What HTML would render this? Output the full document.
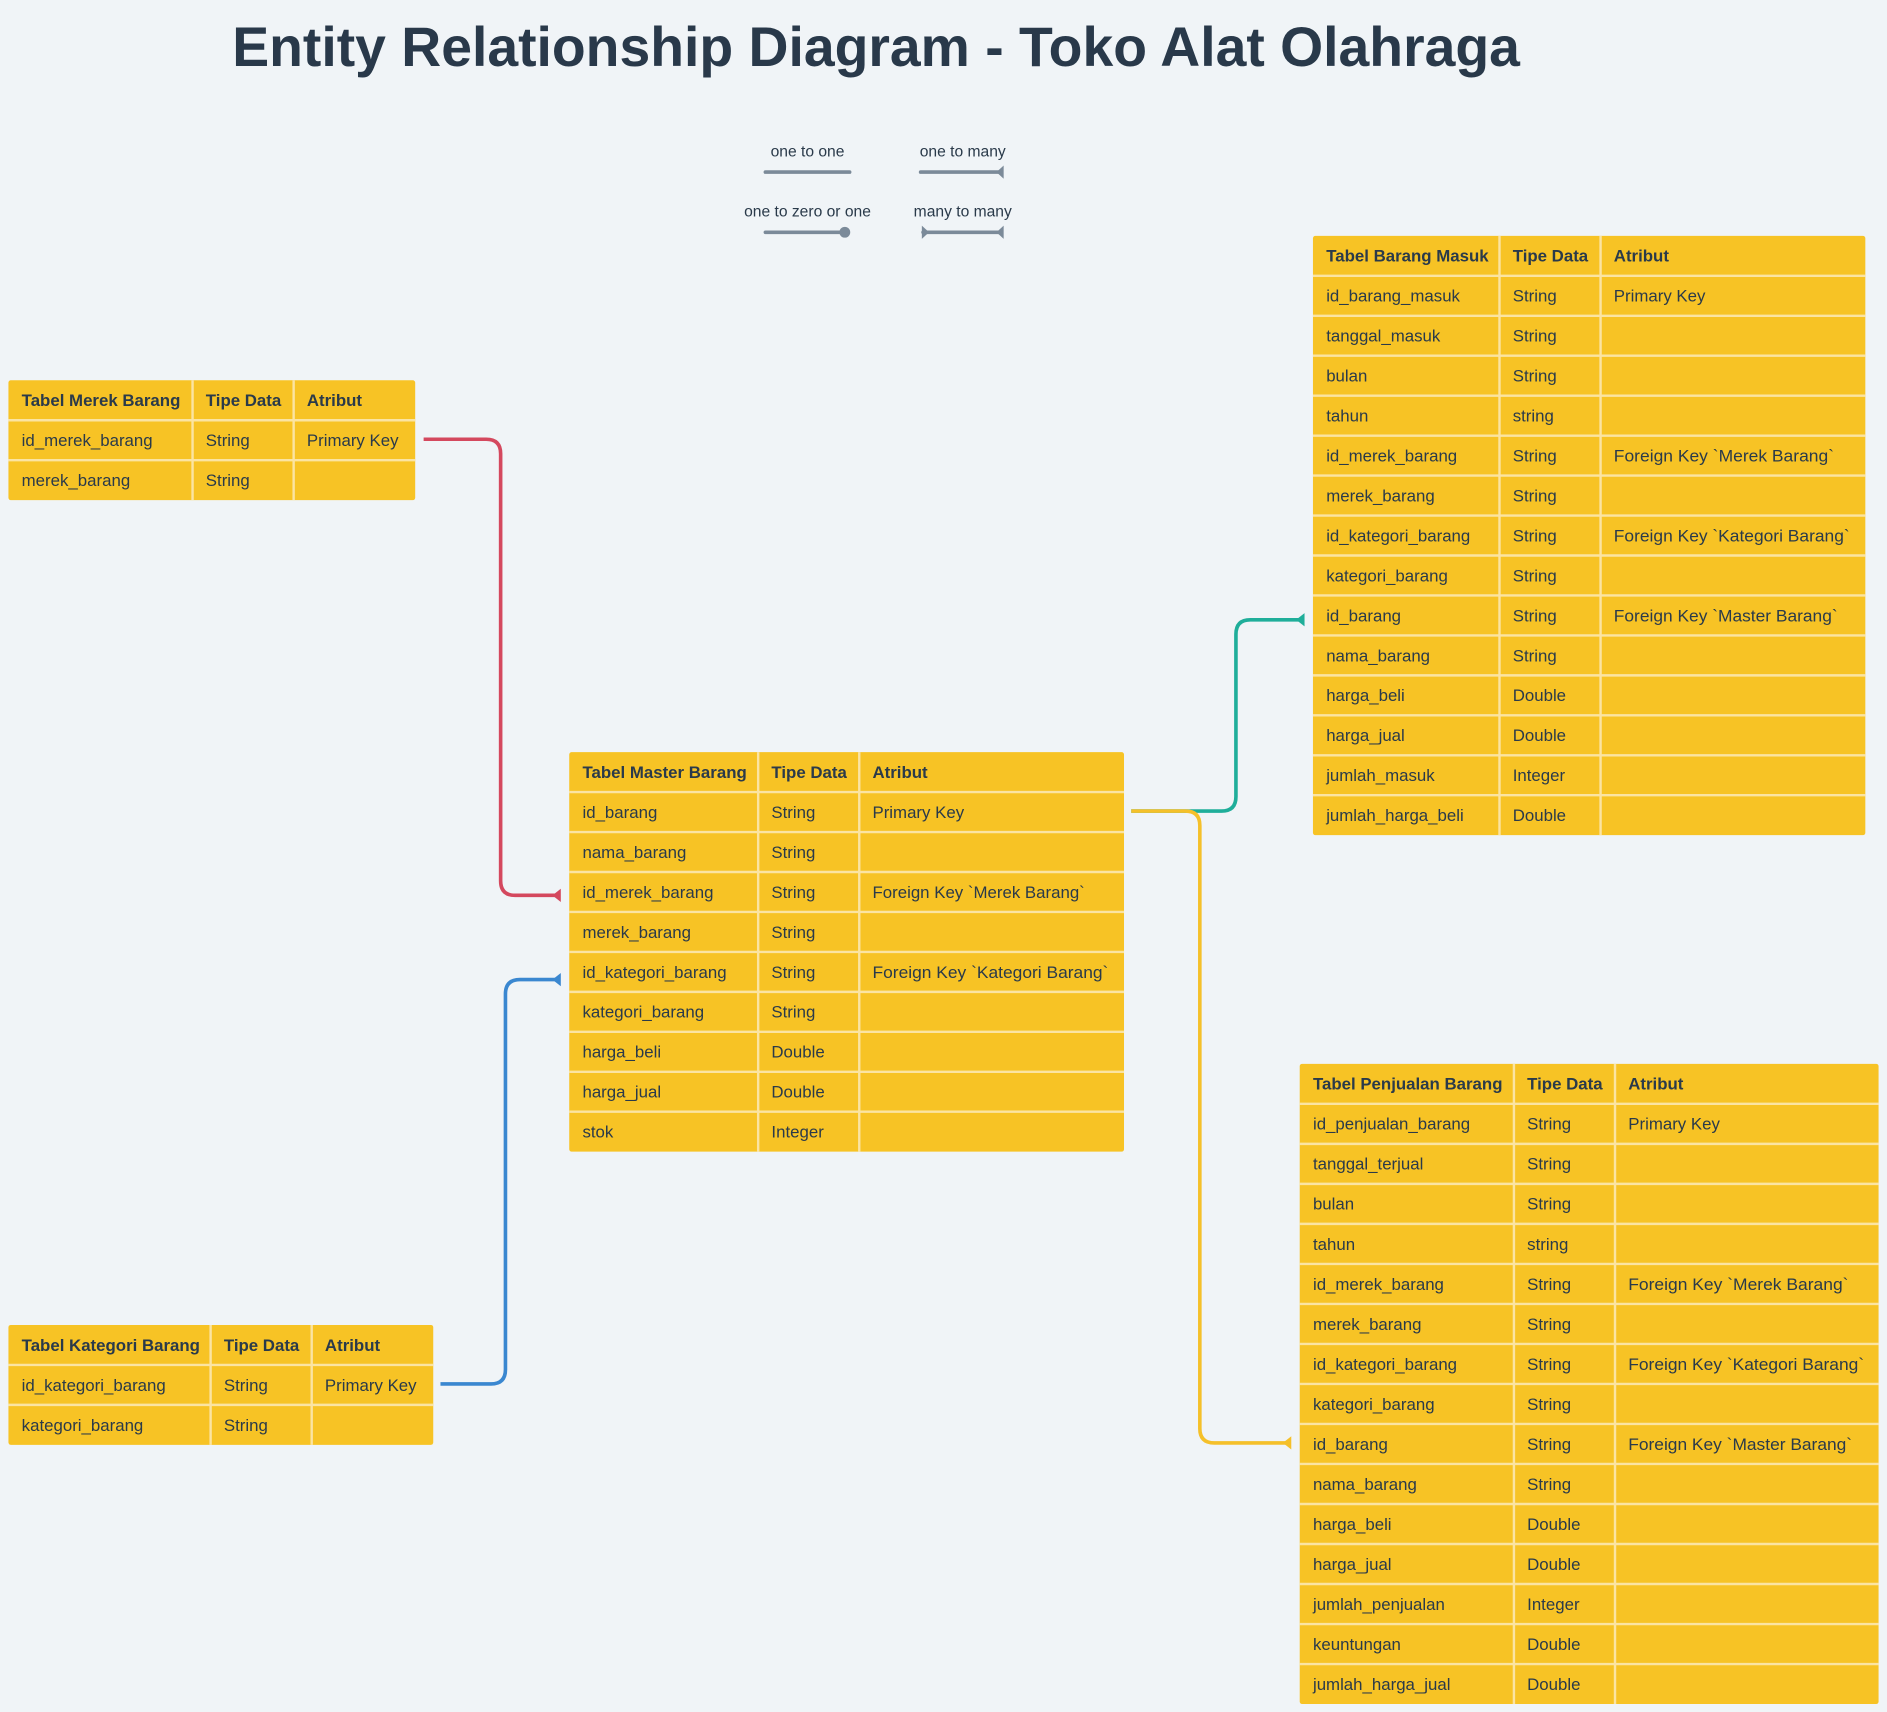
<!DOCTYPE html>
<html><head><meta charset="utf-8"><style>
html,body{margin:0;padding:0;background:#f0f4f7;}
svg{display:block}
text{font-family:"Liberation Sans",sans-serif;fill:#2a3a4a}
.h{font-weight:bold;font-size:14px}
.c{font-size:14px}
.sep{stroke:#fbe4a2;stroke-width:2}
.tb{fill:#f7c325}
</style></head><body>
<svg width="1887" height="1712" viewBox="0 0 1568 1422.6" xmlns="http://www.w3.org/2000/svg">
<text x="728" y="55" text-anchor="middle" style="font-size:46px;font-weight:bold;fill:#29394a" textLength="1070" lengthAdjust="spacingAndGlyphs">Entity Relationship Diagram - Toko Alat Olahraga</text>

<!-- legend -->
<g style="font-size:13px">
<text x="671" y="130" text-anchor="middle" style="font-size:13px">one to one</text>
<text x="800" y="130" text-anchor="middle" style="font-size:13px">one to many</text>
<text x="671" y="180" text-anchor="middle" style="font-size:13px">one to zero or one</text>
<text x="800" y="180" text-anchor="middle" style="font-size:13px">many to many</text>
</g>
<g stroke="#7b8a99" stroke-width="3" stroke-linecap="round" fill="#7b8a99">
<line x1="636" y1="143" x2="706" y2="143"/>
<line x1="765" y1="143" x2="832" y2="143"/>
<polygon points="834,137.5 834,148.5 828,143" stroke="none"/>
<line x1="636" y1="193" x2="700" y2="193"/>
<circle cx="702" cy="193" r="4.5" stroke="none"/>
<line x1="767" y1="193" x2="832" y2="193"/>
<polygon points="834,187.5 834,198.5 828,193" stroke="none"/>
<polygon points="766,187.5 766,198.5 772,193" stroke="none"/>
</g>

<!-- connectors -->
<g fill="none" stroke-width="3">
<path d="M352 365 H404 Q416 365 416 377 V732 Q416 744 428 744 H464" stroke="#d4485e"/>
<path d="M366 1150 H408 Q420 1150 420 1138 V826 Q420 814 432 814 H464" stroke="#3a87d0"/>
<path d="M940 674 H1015 Q1027 674 1027 662 V527 Q1027 515 1039 515 H1082" stroke="#1fae9a"/>
<path d="M940 674 H985 Q997 674 997 686 V1187 Q997 1199 1009 1199 H1071" stroke="#f5c02a"/>
</g>
<polygon points="466,738.5 466,749.5 459,744" fill="#d4485e"/>
<polygon points="466,808.5 466,819.5 459,814" fill="#3a87d0"/>
<polygon points="1084,509.5 1084,520.5 1077,515" fill="#1fae9a"/>
<polygon points="1073,1193.5 1073,1204.5 1066,1199" fill="#f5c02a"/>

<!-- Merek -->
<g transform="translate(7,316)">
<rect class="tb" width="338" height="99.6" rx="2"/>
<line class="sep" x1="153" y1="0" x2="153" y2="99.6"/><line class="sep" x1="237" y1="0" x2="237" y2="99.6"/>
<line class="sep" x1="0" y1="33.2" x2="338" y2="33.2"/><line class="sep" x1="0" y1="66.4" x2="338" y2="66.4"/>
<text class="h" x="11" y="21.5">Tabel Merek Barang</text><text class="h" x="164" y="21.5">Tipe Data</text><text class="h" x="248" y="21.5">Atribut</text>
<text class="c" x="11" y="54.7">id_merek_barang</text><text class="c" x="164" y="54.7">String</text><text class="c" x="248" y="54.7">Primary Key</text>
<text class="c" x="11" y="87.9">merek_barang</text><text class="c" x="164" y="87.9">String</text>
</g>

<!-- Kategori -->
<g transform="translate(7,1101)">
<rect class="tb" width="353" height="99.6" rx="2"/>
<line class="sep" x1="168" y1="0" x2="168" y2="99.6"/><line class="sep" x1="252" y1="0" x2="252" y2="99.6"/>
<line class="sep" x1="0" y1="33.2" x2="353" y2="33.2"/><line class="sep" x1="0" y1="66.4" x2="353" y2="66.4"/>
<text class="h" x="11" y="21.5">Tabel Kategori Barang</text><text class="h" x="179" y="21.5">Tipe Data</text><text class="h" x="263" y="21.5">Atribut</text>
<text class="c" x="11" y="54.7">id_kategori_barang</text><text class="c" x="179" y="54.7">String</text><text class="c" x="263" y="54.7">Primary Key</text>
<text class="c" x="11" y="87.9">kategori_barang</text><text class="c" x="179" y="87.9">String</text>
</g>

<!-- Master -->
<g transform="translate(473,625)">
<rect class="tb" width="461" height="332" rx="2"/>
<line class="sep" x1="157" y1="0" x2="157" y2="332"/><line class="sep" x1="241" y1="0" x2="241" y2="332"/>
<g class="sep">
<line x1="0" y1="33.2" x2="461" y2="33.2"/><line x1="0" y1="66.4" x2="461" y2="66.4"/><line x1="0" y1="99.6" x2="461" y2="99.6"/>
<line x1="0" y1="132.8" x2="461" y2="132.8"/><line x1="0" y1="166" x2="461" y2="166"/><line x1="0" y1="199.2" x2="461" y2="199.2"/>
<line x1="0" y1="232.4" x2="461" y2="232.4"/><line x1="0" y1="265.6" x2="461" y2="265.6"/><line x1="0" y1="298.8" x2="461" y2="298.8"/>
</g>
<text class="h" x="11" y="21.5">Tabel Master Barang</text><text class="h" x="168" y="21.5">Tipe Data</text><text class="h" x="252" y="21.5">Atribut</text>
<text class="c" x="11" y="54.7">id_barang</text><text class="c" x="168" y="54.7">String</text><text class="c" x="252" y="54.7">Primary Key</text>
<text class="c" x="11" y="87.9">nama_barang</text><text class="c" x="168" y="87.9">String</text>
<text class="c" x="11" y="121.1">id_merek_barang</text><text class="c" x="168" y="121.1">String</text><text class="c" x="252" y="121.1">Foreign Key `Merek Barang`</text>
<text class="c" x="11" y="154.3">merek_barang</text><text class="c" x="168" y="154.3">String</text>
<text class="c" x="11" y="187.5">id_kategori_barang</text><text class="c" x="168" y="187.5">String</text><text class="c" x="252" y="187.5" textLength="196" lengthAdjust="spacingAndGlyphs">Foreign Key `Kategori Barang`</text>
<text class="c" x="11" y="220.7">kategori_barang</text><text class="c" x="168" y="220.7">String</text>
<text class="c" x="11" y="253.9">harga_beli</text><text class="c" x="168" y="253.9">Double</text>
<text class="c" x="11" y="287.1">harga_jual</text><text class="c" x="168" y="287.1">Double</text>
<text class="c" x="11" y="320.3">stok</text><text class="c" x="168" y="320.3">Integer</text>
</g>

<!-- Masuk -->
<g transform="translate(1091,196)">
<rect class="tb" width="459" height="498" rx="2"/>
<line class="sep" x1="155" y1="0" x2="155" y2="498"/><line class="sep" x1="239" y1="0" x2="239" y2="498"/>
<g class="sep">
<line x1="0" y1="33.2" x2="459" y2="33.2"/><line x1="0" y1="66.4" x2="459" y2="66.4"/><line x1="0" y1="99.6" x2="459" y2="99.6"/>
<line x1="0" y1="132.8" x2="459" y2="132.8"/><line x1="0" y1="166" x2="459" y2="166"/><line x1="0" y1="199.2" x2="459" y2="199.2"/>
<line x1="0" y1="232.4" x2="459" y2="232.4"/><line x1="0" y1="265.6" x2="459" y2="265.6"/><line x1="0" y1="298.8" x2="459" y2="298.8"/>
<line x1="0" y1="332" x2="459" y2="332"/><line x1="0" y1="365.2" x2="459" y2="365.2"/><line x1="0" y1="398.4" x2="459" y2="398.4"/>
<line x1="0" y1="431.6" x2="459" y2="431.6"/><line x1="0" y1="464.8" x2="459" y2="464.8"/>
</g>
<text class="h" x="11" y="21.5">Tabel Barang Masuk</text><text class="h" x="166" y="21.5">Tipe Data</text><text class="h" x="250" y="21.5">Atribut</text>
<text class="c" x="11" y="54.7">id_barang_masuk</text><text class="c" x="166" y="54.7">String</text><text class="c" x="250" y="54.7">Primary Key</text>
<text class="c" x="11" y="87.9">tanggal_masuk</text><text class="c" x="166" y="87.9">String</text>
<text class="c" x="11" y="121.1">bulan</text><text class="c" x="166" y="121.1">String</text>
<text class="c" x="11" y="154.3">tahun</text><text class="c" x="166" y="154.3">string</text>
<text class="c" x="11" y="187.5">id_merek_barang</text><text class="c" x="166" y="187.5">String</text><text class="c" x="250" y="187.5" textLength="183" lengthAdjust="spacingAndGlyphs">Foreign Key `Merek Barang`</text>
<text class="c" x="11" y="220.7">merek_barang</text><text class="c" x="166" y="220.7">String</text>
<text class="c" x="11" y="253.9">id_kategori_barang</text><text class="c" x="166" y="253.9">String</text><text class="c" x="250" y="253.9" textLength="196" lengthAdjust="spacingAndGlyphs">Foreign Key `Kategori Barang`</text>
<text class="c" x="11" y="287.1">kategori_barang</text><text class="c" x="166" y="287.1">String</text>
<text class="c" x="11" y="320.3">id_barang</text><text class="c" x="166" y="320.3">String</text><text class="c" x="250" y="320.3" textLength="186" lengthAdjust="spacingAndGlyphs">Foreign Key `Master Barang`</text>
<text class="c" x="11" y="353.5">nama_barang</text><text class="c" x="166" y="353.5">String</text>
<text class="c" x="11" y="386.7">harga_beli</text><text class="c" x="166" y="386.7">Double</text>
<text class="c" x="11" y="419.9">harga_jual</text><text class="c" x="166" y="419.9">Double</text>
<text class="c" x="11" y="453.1">jumlah_masuk</text><text class="c" x="166" y="453.1">Integer</text>
<text class="c" x="11" y="486.3">jumlah_harga_beli</text><text class="c" x="166" y="486.3">Double</text>
</g>

<!-- Penjualan -->
<g transform="translate(1080,884)">
<rect class="tb" width="481" height="532" rx="2"/>
<line class="sep" x1="178" y1="0" x2="178" y2="532"/><line class="sep" x1="262" y1="0" x2="262" y2="532"/>
<g class="sep">
<line x1="0" y1="33.25" x2="481" y2="33.25"/><line x1="0" y1="66.5" x2="481" y2="66.5"/><line x1="0" y1="99.75" x2="481" y2="99.75"/>
<line x1="0" y1="133" x2="481" y2="133"/><line x1="0" y1="166.25" x2="481" y2="166.25"/><line x1="0" y1="199.5" x2="481" y2="199.5"/>
<line x1="0" y1="232.75" x2="481" y2="232.75"/><line x1="0" y1="266" x2="481" y2="266"/><line x1="0" y1="299.25" x2="481" y2="299.25"/>
<line x1="0" y1="332.5" x2="481" y2="332.5"/><line x1="0" y1="365.75" x2="481" y2="365.75"/><line x1="0" y1="399" x2="481" y2="399"/>
<line x1="0" y1="432.25" x2="481" y2="432.25"/><line x1="0" y1="465.5" x2="481" y2="465.5"/><line x1="0" y1="498.75" x2="481" y2="498.75"/>
</g>
<text class="h" x="11" y="21.5">Tabel Penjualan Barang</text><text class="h" x="189" y="21.5">Tipe Data</text><text class="h" x="273" y="21.5">Atribut</text>
<text class="c" x="11" y="54.75">id_penjualan_barang</text><text class="c" x="189" y="54.75">String</text><text class="c" x="273" y="54.75">Primary Key</text>
<text class="c" x="11" y="88">tanggal_terjual</text><text class="c" x="189" y="88">String</text>
<text class="c" x="11" y="121.25">bulan</text><text class="c" x="189" y="121.25">String</text>
<text class="c" x="11" y="154.5">tahun</text><text class="c" x="189" y="154.5">string</text>
<text class="c" x="11" y="187.75">id_merek_barang</text><text class="c" x="189" y="187.75">String</text><text class="c" x="273" y="187.75" textLength="183" lengthAdjust="spacingAndGlyphs">Foreign Key `Merek Barang`</text>
<text class="c" x="11" y="221">merek_barang</text><text class="c" x="189" y="221">String</text>
<text class="c" x="11" y="254.25">id_kategori_barang</text><text class="c" x="189" y="254.25">String</text><text class="c" x="273" y="254.25" textLength="196" lengthAdjust="spacingAndGlyphs">Foreign Key `Kategori Barang`</text>
<text class="c" x="11" y="287.5">kategori_barang</text><text class="c" x="189" y="287.5">String</text>
<text class="c" x="11" y="320.75">id_barang</text><text class="c" x="189" y="320.75">String</text><text class="c" x="273" y="320.75" textLength="186" lengthAdjust="spacingAndGlyphs">Foreign Key `Master Barang`</text>
<text class="c" x="11" y="354">nama_barang</text><text class="c" x="189" y="354">String</text>
<text class="c" x="11" y="387.25">harga_beli</text><text class="c" x="189" y="387.25">Double</text>
<text class="c" x="11" y="420.5">harga_jual</text><text class="c" x="189" y="420.5">Double</text>
<text class="c" x="11" y="453.75">jumlah_penjualan</text><text class="c" x="189" y="453.75">Integer</text>
<text class="c" x="11" y="487">keuntungan</text><text class="c" x="189" y="487">Double</text>
<text class="c" x="11" y="520.25">jumlah_harga_jual</text><text class="c" x="189" y="520.25">Double</text>
</g>
</svg>
</body></html>
